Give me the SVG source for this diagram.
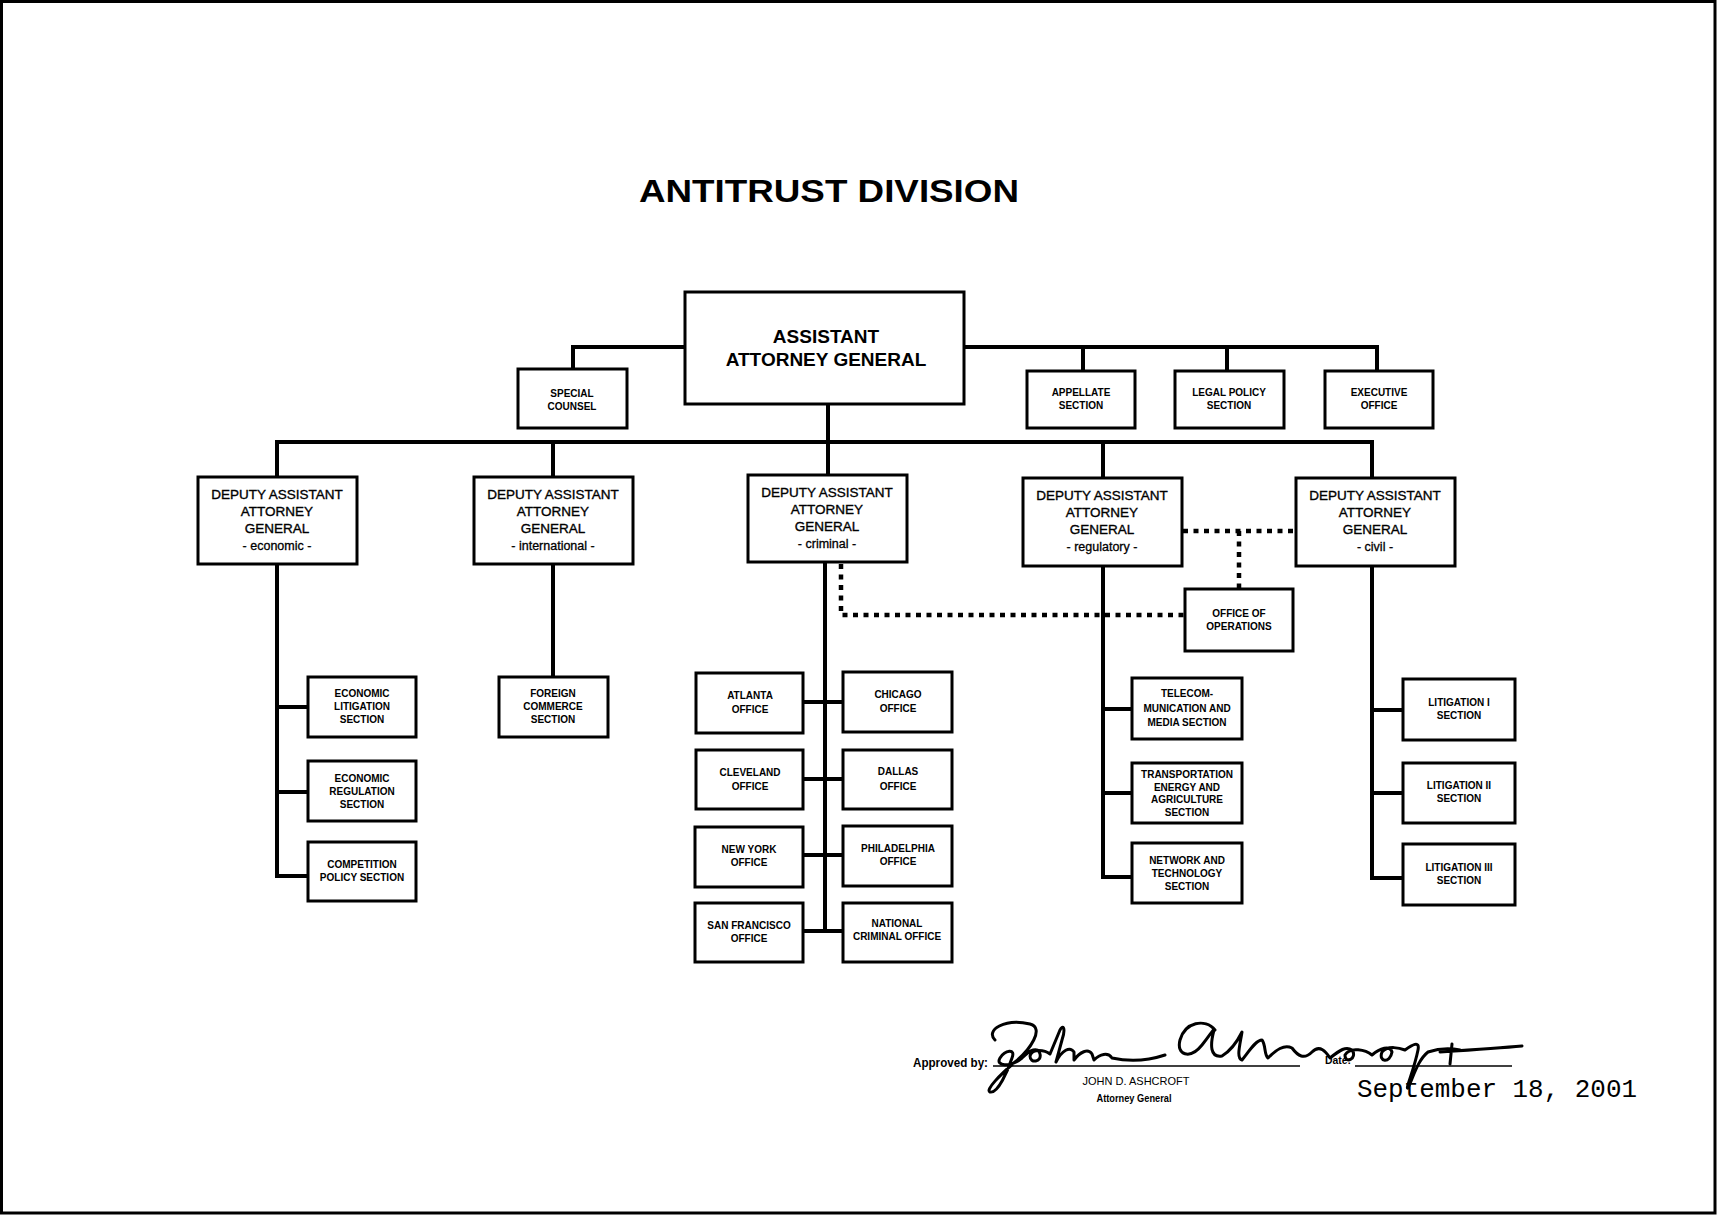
<svg xmlns="http://www.w3.org/2000/svg" width="1717" height="1215" viewBox="0 0 1717 1215">
<style>
.box{fill:#fff;stroke:#000;stroke-width:3}
.ln{fill:none;stroke:#000;stroke-width:4;stroke-linejoin:miter}
.dot{fill:none;stroke:#000;stroke-width:4.5;stroke-dasharray:5 5.5}
.t{font-family:"Liberation Sans",Arial,sans-serif;fill:#000;text-anchor:middle}
.s{font-size:10px;font-weight:bold}
.d{font-size:13.5px;stroke:#000;stroke-width:0.35}
.dl{font-size:12.5px;stroke:#000;stroke-width:0.3}
.sig{fill:none;stroke:#000;stroke-width:3;stroke-linecap:round;stroke-linejoin:round}
</style>
<rect x="0" y="0" width="1717" height="1215" fill="#fff"/>
<rect x="1.5" y="1.5" width="1713.5" height="1211.5" fill="none" stroke="#000" stroke-width="3"/>

<text class="t" x="829" y="202" font-size="32" font-weight="bold" textLength="380" lengthAdjust="spacingAndGlyphs">ANTITRUST DIVISION</text>

<g id="connectors">
  <path class="ln" d="M685,347 H573 V369"/>
  <path class="ln" d="M964,347 H1377 V371 M1083,347 V371 M1227,347 V371"/>
  <path class="ln" d="M828,404 V442"/>
  <path class="ln" d="M277,477 V442 H1372 V478 M553,442 V477 M828,442 V475 M1103,442 V478"/>
  <path class="ln" d="M277,564 V876 H308 M277,707 H308 M277,792 H308"/>
  <path class="ln" d="M553,564 V677"/>
  <path class="ln" d="M825,562 V931 M803,702 H843 M803,779 H843 M803,855 H843 M803,931 H843"/>
  <path class="ln" d="M1103,566 V877 H1132 M1103,709 H1132 M1103,793 H1132"/>
  <path class="ln" d="M1372,566 V878 H1403 M1372,710 H1403 M1372,793 H1403"/>
  <path class="dot" d="M841,564 V615 H1185"/>
  <path class="dot" d="M1183,531 H1296 M1239,531 V589"/>
</g>

<g id="aag"><rect class="box" x="685" y="292" width="279" height="112"/>
<text class="t" x="826" y="343" font-size="19" font-weight="bold">ASSISTANT</text>
<text class="t" x="826" y="366" font-size="19" font-weight="bold">ATTORNEY GENERAL</text></g>

<g id="special-counsel"><rect class="box" x="518" y="369" width="109" height="59"/>
<text class="t s" x="572" y="397">SPECIAL</text><text class="t s" x="572" y="410">COUNSEL</text></g>

<g id="appellate"><rect class="box" x="1027" y="371" width="108" height="57"/>
<text class="t s" x="1081" y="396">APPELLATE</text><text class="t s" x="1081" y="409">SECTION</text></g>

<g id="legal-policy"><rect class="box" x="1175" y="371" width="109" height="57"/>
<text class="t s" x="1229" y="396">LEGAL POLICY</text><text class="t s" x="1229" y="409">SECTION</text></g>

<g id="executive"><rect class="box" x="1325" y="371" width="108" height="57"/>
<text class="t s" x="1379" y="396">EXECUTIVE</text><text class="t s" x="1379" y="409">OFFICE</text></g>

<g id="daag-economic"><rect class="box" x="198" y="477" width="159" height="87"/>
<text class="t d" x="277" y="499">DEPUTY ASSISTANT</text><text class="t d" x="277" y="516">ATTORNEY</text><text class="t d" x="277" y="533">GENERAL</text><text class="t dl" x="277" y="550">- economic -</text></g>

<g id="daag-international"><rect class="box" x="474" y="477" width="159" height="87"/>
<text class="t d" x="553" y="499">DEPUTY ASSISTANT</text><text class="t d" x="553" y="516">ATTORNEY</text><text class="t d" x="553" y="533">GENERAL</text><text class="t dl" x="553" y="550">- international -</text></g>

<g id="daag-criminal"><rect class="box" x="748" y="475" width="159" height="87"/>
<text class="t d" x="827" y="497">DEPUTY ASSISTANT</text><text class="t d" x="827" y="514">ATTORNEY</text><text class="t d" x="827" y="531">GENERAL</text><text class="t dl" x="827" y="548">- criminal -</text></g>

<g id="daag-regulatory"><rect class="box" x="1023" y="478" width="159" height="88"/>
<text class="t d" x="1102" y="500">DEPUTY ASSISTANT</text><text class="t d" x="1102" y="517">ATTORNEY</text><text class="t d" x="1102" y="534">GENERAL</text><text class="t dl" x="1102" y="551">- regulatory -</text></g>

<g id="daag-civil"><rect class="box" x="1296" y="478" width="159" height="88"/>
<text class="t d" x="1375" y="500">DEPUTY ASSISTANT</text><text class="t d" x="1375" y="517">ATTORNEY</text><text class="t d" x="1375" y="534">GENERAL</text><text class="t dl" x="1375" y="551">- civil -</text></g>

<g id="office-of-operations"><rect class="box" x="1185" y="589" width="108" height="62"/>
<text class="t s" x="1239" y="617">OFFICE OF</text><text class="t s" x="1239" y="630">OPERATIONS</text></g>

<g id="economic-litigation"><rect class="box" x="308" y="677" width="108" height="60"/>
<text class="t s" x="362" y="697">ECONOMIC</text><text class="t s" x="362" y="710">LITIGATION</text><text class="t s" x="362" y="723">SECTION</text></g>

<g id="economic-regulation"><rect class="box" x="308" y="761" width="108" height="60"/>
<text class="t s" x="362" y="782">ECONOMIC</text><text class="t s" x="362" y="795">REGULATION</text><text class="t s" x="362" y="808">SECTION</text></g>

<g id="competition-policy"><rect class="box" x="308" y="842" width="108" height="59"/>
<text class="t s" x="362" y="868">COMPETITION</text><text class="t s" x="362" y="881">POLICY SECTION</text></g>

<g id="foreign-commerce"><rect class="box" x="499" y="677" width="109" height="60"/>
<text class="t s" x="553" y="697">FOREIGN</text><text class="t s" x="553" y="710">COMMERCE</text><text class="t s" x="553" y="723">SECTION</text></g>

<g id="atlanta"><rect class="box" x="696" y="673" width="107" height="60"/>
<text class="t s" x="750" y="699">ATLANTA</text><text class="t s" x="750" y="713">OFFICE</text></g>
<g id="chicago"><rect class="box" x="843" y="672" width="109" height="60"/>
<text class="t s" x="898" y="698">CHICAGO</text><text class="t s" x="898" y="712">OFFICE</text></g>
<g id="cleveland"><rect class="box" x="696" y="750" width="107" height="59"/>
<text class="t s" x="750" y="776">CLEVELAND</text><text class="t s" x="750" y="790">OFFICE</text></g>
<g id="dallas"><rect class="box" x="843" y="750" width="109" height="59"/>
<text class="t s" x="898" y="775">DALLAS</text><text class="t s" x="898" y="790">OFFICE</text></g>
<g id="new-york"><rect class="box" x="695" y="827" width="108" height="60"/>
<text class="t s" x="749" y="853">NEW YORK</text><text class="t s" x="749" y="866">OFFICE</text></g>
<g id="philadelphia"><rect class="box" x="843" y="826" width="109" height="60"/>
<text class="t s" x="898" y="852">PHILADELPHIA</text><text class="t s" x="898" y="865">OFFICE</text></g>
<g id="san-francisco"><rect class="box" x="695" y="903" width="108" height="59"/>
<text class="t s" x="749" y="929">SAN FRANCISCO</text><text class="t s" x="749" y="942">OFFICE</text></g>
<g id="national-criminal"><rect class="box" x="843" y="903" width="109" height="59"/>
<text class="t s" x="897" y="927">NATIONAL</text><text class="t s" x="897" y="940">CRIMINAL OFFICE</text></g>

<g id="telecom"><rect class="box" x="1132" y="678" width="110" height="61"/>
<text class="t s" x="1187" y="697">TELECOM-</text><text class="t s" x="1187" y="712">MUNICATION  AND</text><text class="t s" x="1187" y="726">MEDIA SECTION</text></g>
<g id="transportation"><rect class="box" x="1132" y="763" width="110" height="60"/>
<text class="t s" x="1187" y="778">TRANSPORTATION</text><text class="t s" x="1187" y="791">ENERGY AND</text><text class="t s" x="1187" y="803">AGRICULTURE</text><text class="t s" x="1187" y="816">SECTION</text></g>
<g id="network"><rect class="box" x="1132" y="843" width="110" height="60"/>
<text class="t s" x="1187" y="864">NETWORK AND</text><text class="t s" x="1187" y="877">TECHNOLOGY</text><text class="t s" x="1187" y="890">SECTION</text></g>

<g id="litigation-1"><rect class="box" x="1403" y="679" width="112" height="61"/>
<text class="t s" x="1459" y="706">LITIGATION I</text><text class="t s" x="1459" y="719">SECTION</text></g>
<g id="litigation-2"><rect class="box" x="1403" y="763" width="112" height="60"/>
<text class="t s" x="1459" y="789">LITIGATION II</text><text class="t s" x="1459" y="802">SECTION</text></g>
<g id="litigation-3"><rect class="box" x="1403" y="844" width="112" height="61"/>
<text class="t s" x="1459" y="871">LITIGATION III</text><text class="t s" x="1459" y="884">SECTION</text></g>

<g id="approval">
  <text x="913" y="1067" font-family="Liberation Sans,Arial,sans-serif" font-size="12" font-weight="bold" textLength="75" lengthAdjust="spacingAndGlyphs">Approved by:</text>
  <line x1="993" y1="1066" x2="1300" y2="1066" stroke="#000" stroke-width="1.5"/>
  <text x="1325" y="1064" font-family="Liberation Sans,Arial,sans-serif" font-size="10" font-weight="bold" textLength="26" lengthAdjust="spacingAndGlyphs">Date:</text>
  <line x1="1355" y1="1066" x2="1512" y2="1066" stroke="#000" stroke-width="1.5"/>
  <path class="sig" d="M995,1040 C985,1030 1005,1018 1030,1024 C1045,1028 1030,1050 1015,1062 C1000,1075 985,1090 990,1092 C998,1094 1008,1070 1012,1058 C1016,1048 1005,1050 1000,1058 C995,1066 1010,1068 1022,1058 C1030,1050 1038,1046 1040,1054 C1042,1062 1030,1064 1030,1056 C1032,1048 1045,1050 1050,1054 L1060,1030 C1063,1024 1066,1028 1062,1040 L1056,1062 C1062,1050 1070,1046 1074,1052 L1074,1060 C1080,1052 1088,1048 1092,1054 L1094,1060 C1100,1054 1108,1052 1112,1058 C1130,1062 1150,1060 1165,1055"/>
  <path class="sig" d="M1215,1030 C1205,1018 1185,1022 1180,1040 C1176,1055 1190,1060 1202,1045 C1210,1035 1214,1028 1214,1030 C1210,1045 1210,1058 1222,1056 C1232,1050 1238,1040 1242,1032 C1240,1045 1236,1058 1242,1060 C1250,1050 1256,1040 1262,1040 C1266,1045 1264,1055 1268,1058 C1276,1050 1284,1044 1292,1048 C1298,1056 1304,1060 1312,1052 C1320,1044 1326,1052 1330,1058 C1340,1050 1346,1046 1352,1050 C1358,1058 1345,1065 1345,1055 C1350,1046 1366,1050 1372,1055 C1380,1048 1390,1045 1392,1052 C1390,1064 1378,1062 1382,1052 C1388,1045 1400,1048 1405,1050 C1412,1045 1420,1040 1418,1050 C1414,1070 1405,1090 1408,1088 C1414,1075 1418,1060 1428,1052 C1440,1048 1450,1048 1460,1050"/>
  <path class="sig" d="M1440,1052 C1470,1050 1500,1048 1522,1046 M1452,1044 L1450,1064"/>
  <text class="t" x="1136" y="1085" font-size="11" textLength="107" lengthAdjust="spacingAndGlyphs">JOHN D. ASHCROFT</text>
  <text class="t" x="1134" y="1102" font-size="10" font-weight="bold" textLength="75" lengthAdjust="spacingAndGlyphs">Attorney General</text>
  <text x="1357" y="1097" font-family="Liberation Mono,Courier New,monospace" font-size="25.5" textLength="280" lengthAdjust="spacingAndGlyphs">September 18, 2001</text>
</g>
</svg>
